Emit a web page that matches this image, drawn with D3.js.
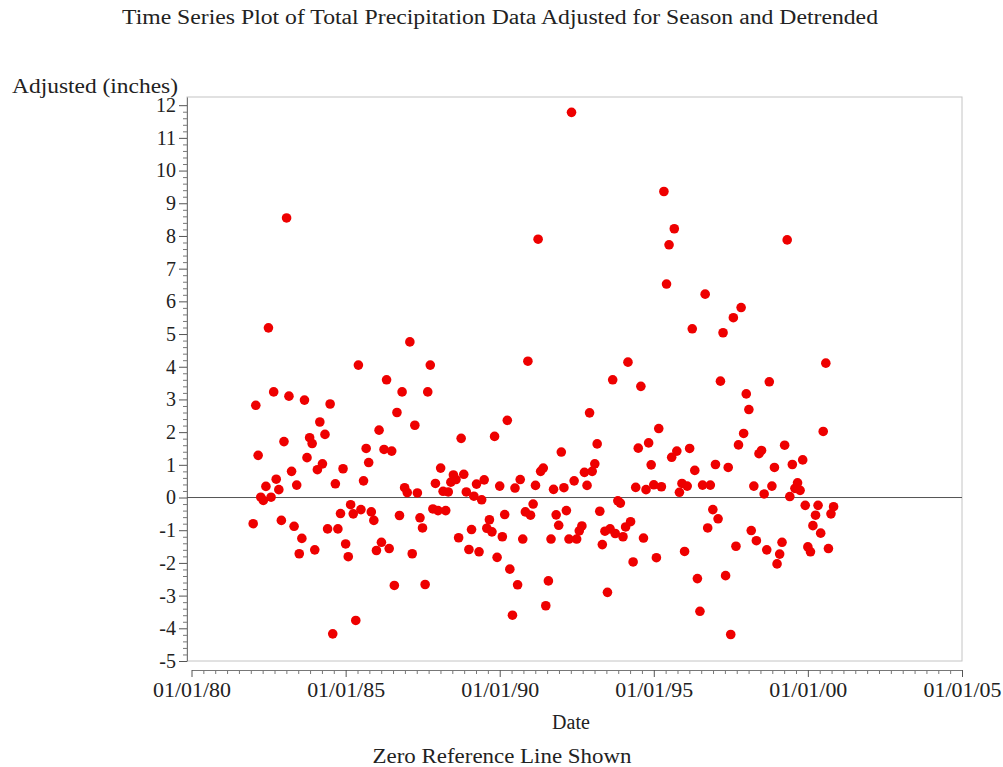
<!DOCTYPE html>
<html>
<head>
<meta charset="utf-8">
<script src="https://cdn.jsdelivr.net/npm/d3@7"></script>
<style>
  body { margin: 0; background: #fff; }
  text { font-family: "Liberation Serif", "Times New Roman", serif; fill: #222; }
</style>
</head>
<body>
<svg id="chart" width="1003" height="767"></svg>
<script>
// Monthly observations, Jan 1982 - Nov 2000
const months = [
  "1982-01","1982-02","1982-03","1982-04","1982-05","1982-06","1982-07","1982-08","1982-09","1982-10","1982-11","1982-12",
  "1983-01","1983-02","1983-03","1983-04","1983-05","1983-06","1983-07","1983-08","1983-09","1983-10","1983-11","1983-12",
  "1984-01","1984-02","1984-03","1984-04","1984-05","1984-06","1984-07","1984-08","1984-09","1984-10","1984-11","1984-12",
  "1985-01","1985-02","1985-03","1985-04","1985-05","1985-06","1985-07","1985-08","1985-09","1985-10","1985-11","1985-12",
  "1986-01","1986-02","1986-03","1986-04","1986-05","1986-06","1986-07","1986-08","1986-09","1986-10","1986-11","1986-12",
  "1987-01","1987-02","1987-03","1987-04","1987-05","1987-06","1987-07","1987-08","1987-09","1987-10","1987-11","1987-12",
  "1988-01","1988-02","1988-03","1988-04","1988-05","1988-06","1988-07","1988-08","1988-09","1988-10","1988-11","1988-12",
  "1989-01","1989-02","1989-03","1989-04","1989-05","1989-06","1989-07","1989-08","1989-09","1989-10","1989-11","1989-12",
  "1990-01","1990-02","1990-03","1990-04","1990-05","1990-06","1990-07","1990-08","1990-09","1990-10","1990-11","1990-12",
  "1991-01","1991-02","1991-03","1991-04","1991-05","1991-06","1991-07","1991-08","1991-09","1991-10","1991-11","1991-12",
  "1992-01","1992-02","1992-03","1992-04","1992-05","1992-06","1992-07","1992-08","1992-09","1992-10","1992-11","1992-12",
  "1993-01","1993-02","1993-03","1993-04","1993-05","1993-06","1993-07","1993-08","1993-09","1993-10","1993-11","1993-12",
  "1994-01","1994-02","1994-03","1994-04","1994-05","1994-06","1994-07","1994-08","1994-09","1994-10","1994-11","1994-12",
  "1995-01","1995-02","1995-03","1995-04","1995-05","1995-06","1995-07","1995-08","1995-09","1995-10","1995-11","1995-12",
  "1996-01","1996-02","1996-03","1996-04","1996-05","1996-06","1996-07","1996-08","1996-09","1996-10","1996-11","1996-12",
  "1997-01","1997-02","1997-03","1997-04","1997-05","1997-06","1997-07","1997-08","1997-09","1997-10","1997-11","1997-12",
  "1998-01","1998-02","1998-03","1998-04","1998-05","1998-06","1998-07","1998-08","1998-09","1998-10","1998-11","1998-12",
  "1999-01","1999-02","1999-03","1999-04","1999-05","1999-06","1999-07","1999-08","1999-09","1999-10","1999-11","1999-12",
  "2000-01","2000-02","2000-03","2000-04","2000-05","2000-06","2000-07","2000-08","2000-09","2000-10","2000-11"
];

// Precipitation adjusted for season and detrended (inches)
const adjusted = [
  -0.80, 2.82, 1.29, 0.01,-0.09, 0.34, 5.19, 0.01, 3.23, 0.56, 0.24,-0.70,
   1.71, 8.55, 3.10, 0.80,-0.88, 0.38,-1.72,-1.25, 2.98, 1.22, 1.83, 1.65,
  -1.60, 0.85, 2.31, 1.03, 1.93,-0.96, 2.86,-4.17, 0.42,-0.96,-0.49, 0.88,
  -1.42,-1.81,-0.22,-0.50,-3.76, 4.05,-0.37, 0.51, 1.50, 1.07,-0.44,-0.70,
  -1.62, 2.06,-1.37, 1.47, 3.60,-1.56, 1.42,-2.69, 2.60,-0.55, 3.23, 0.30,
   0.15, 4.76,-1.72, 2.21, 0.14,-0.62,-0.93,-2.66, 3.23, 4.05,-0.35, 0.43,
  -0.40, 0.90, 0.19,-0.40, 0.17, 0.47, 0.69, 0.55,-1.23, 1.81, 0.71, 0.17,
  -1.59,-0.98, 0.04, 0.41,-1.66,-0.07, 0.54,-0.94,-0.68,-1.05, 1.87,-1.83,
   0.35,-1.20,-0.52, 2.36,-2.19,-3.60, 0.29,-2.67, 0.55,-1.27,-0.44, 4.17,
  -0.54,-0.20, 0.37, 7.90, 0.80, 0.90,-3.31,-2.55,-1.27, 0.25,-0.53,-0.85,
   1.39, 0.30,-0.40,-1.27,11.78, 0.51,-1.27,-1.02,-0.87, 0.77, 0.37, 2.59,
   0.80, 1.03, 1.64,-0.42,-1.44,-1.03,-2.90,-0.96, 3.60,-1.10,-0.10,-0.17,
  -1.20,-0.90, 4.14,-0.74,-1.97, 0.31, 1.51, 3.40,-1.24, 0.24, 1.67, 1.00,
   0.39,-1.84, 2.11, 0.33, 9.36, 6.53, 7.73, 1.23, 8.22, 1.42, 0.16, 0.43,
  -1.65, 0.35, 1.50, 5.16, 0.83,-2.48,-3.48, 0.38, 6.22,-0.93, 0.38,-0.37,
   1.01,-0.65, 3.56, 5.04,-2.39, 0.92,-4.19, 5.50,-1.49, 1.61, 5.81, 1.96,
   3.17, 2.69,-1.01, 0.35,-1.32, 1.34, 1.44, 0.11,-1.60, 3.54, 0.35, 0.92,
  -2.03,-1.73,-1.37, 1.60, 7.88, 0.03, 1.01, 0.28, 0.45, 0.22, 1.15,-0.24,
  -1.51,-1.66,-0.86,-0.54,-0.24,-1.09, 2.02, 4.11,-1.56,-0.50,-0.28
];

const yTickValues = [-5,-4,-3,-2,-1,0,1,2,3,4,5,6,7,8,9,10,11,12];
const xTickDates  = ["1980-01-01","1985-01-01","1990-01-01","1995-01-01","2000-01-01","2005-01-01"];
const xTickLabels = ["01/01/80","01/01/85","01/01/90","01/01/95","01/01/00","01/01/05"];

const titleText  = "Time Series Plot of Total Precipitation Data Adjusted for Season and Detrended";
const yLabelText = "Adjusted (inches)";
const xLabelText = "Date";
const footText   = "Zero Reference Line Shown";

const svg = d3.select("#chart");
const parseMonth = d3.timeParse("%Y-%m");
const parseDay = d3.timeParse("%Y-%m-%d");
const points = months.map((m, i) => ({ date: parseMonth(m), value: adjusted[i] }));
const majorDates = xTickDates.map(parseDay);

// plot frame
const frame = { left: 187, top: 97, right: 962, bottom: 661 };
const xAxisY = 670;

const x = d3.scaleTime()
  .domain(d3.extent(majorDates))
  .range([191.5, frame.right]);
const y = d3.scaleLinear()
  .domain([-5, 12.25])
  .range([frame.bottom, frame.top]);

svg.append("rect").attr("width", 1003).attr("height", 767).attr("fill", "#fff");

svg.append("rect")
  .attr("x", frame.left).attr("y", frame.top)
  .attr("width", frame.right - frame.left).attr("height", frame.bottom - frame.top)
  .attr("fill", "none").attr("stroke", "#c4c4c4").attr("stroke-width", 1);

// y axis: majors with labels, minors every 0.2
const yMinor = [];
yTickValues.slice(0, -1).forEach(v => { for (let k = 1; k < 5; k++) yMinor.push(v + k / 5); });

const yAxisG = svg.append("g").attr("transform", `translate(${frame.left},0)`);
yAxisG.call(d3.axisLeft(y).tickValues(yTickValues).tickSize(8).tickSizeOuter(0).tickPadding(3)
  .tickFormat(d => String(d)));
yAxisG.select(".domain").attr("stroke", "#777");
yAxisG.selectAll(".tick line").attr("stroke", "#555");
yAxisG.selectAll(".tick text").attr("font-size", 20).attr("fill", "#222")
  .style("font-family", '"Liberation Serif", serif');
const yMinorG = svg.append("g").attr("transform", `translate(${frame.left},0)`);
yMinorG.call(d3.axisLeft(y).tickValues(yMinor).tickSize(4).tickFormat(""));
yMinorG.select(".domain").remove();
yMinorG.selectAll(".tick line").attr("stroke", "#777");

// x axis
const xMinor = [];
for (let i = 0; i < majorDates.length - 1; i++) {
  const t0 = +majorDates[i], t1 = +majorDates[i + 1];
  for (let k = 1; k < 13; k++) xMinor.push(new Date(t0 + (t1 - t0) * k / 13));
}
const xAxisG = svg.append("g").attr("transform", `translate(0,${xAxisY})`);
xAxisG.call(d3.axisBottom(x).tickValues(majorDates).tickSize(7).tickSizeOuter(0).tickPadding(6)
  .tickFormat((d, i) => xTickLabels[i]));
xAxisG.select(".domain").attr("stroke", "#777");
xAxisG.selectAll(".tick line").attr("stroke", "#555");
xAxisG.selectAll(".tick text").attr("font-size", 20).attr("fill", "#222")
  .attr("textLength", 78).attr("lengthAdjust", "spacingAndGlyphs")
  .style("font-family", '"Liberation Serif", serif');
const xMinorG = svg.append("g").attr("transform", `translate(0,${xAxisY})`);
xMinorG.call(d3.axisBottom(x).tickValues(xMinor).tickSize(4).tickFormat(""));
xMinorG.select(".domain").remove();
xMinorG.selectAll(".tick line").attr("stroke", "#777");

// zero reference line
svg.append("line")
  .attr("x1", frame.left).attr("x2", frame.right)
  .attr("y1", y(0)).attr("y2", y(0))
  .attr("stroke", "#555").attr("stroke-width", 1);

// observations
svg.append("g").selectAll("circle")
  .data(points)
  .join("circle")
  .attr("cx", d => x(d.date))
  .attr("cy", d => y(d.value))
  .attr("r", 4.8)
  .attr("fill", "#ee0000");

// titles and labels
svg.append("text").attr("x", 500).attr("y", 24).attr("text-anchor", "middle")
  .attr("font-size", 20).attr("textLength", 756).attr("lengthAdjust", "spacingAndGlyphs")
  .text(titleText);
svg.append("text").attr("x", 12).attr("y", 93).attr("text-anchor", "start")
  .attr("font-size", 20).attr("textLength", 166).attr("lengthAdjust", "spacingAndGlyphs")
  .text(yLabelText);
svg.append("text").attr("x", 571).attr("y", 729).attr("text-anchor", "middle")
  .attr("font-size", 20).text(xLabelText);
svg.append("text").attr("x", 502).attr("y", 763).attr("text-anchor", "middle")
  .attr("font-size", 20).attr("textLength", 259).attr("lengthAdjust", "spacingAndGlyphs")
  .text(footText);
</script>
</body>
</html>
